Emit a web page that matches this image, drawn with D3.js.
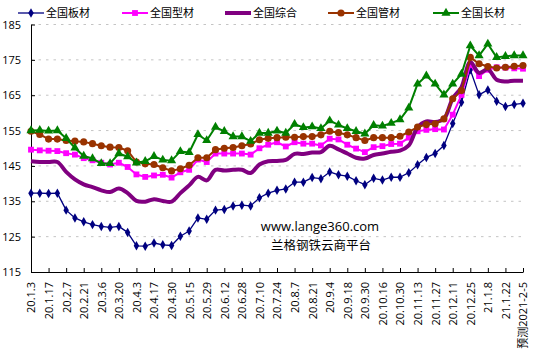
<!DOCTYPE html>
<html>
<head>
<meta charset="utf-8">
<script src="https://cdn.jsdelivr.net/npm/d3@7"></script>
<style>
    body { margin: 0; background: #fff; }
    svg text { font-family: "Open Sans", "Noto Sans CJK SC", sans-serif; fill: #000; }
</style>
</head>
<body>
<svg id="chart" width="535" height="353"></svg>
<script>
const CATEGORIES = [
    '20.1.3', '20.1.10', '20.1.17', '20.1.23', '20.2.7', '20.2.14', '20.2.21', '20.2.28',
    '20.3.6', '20.3.13', '20.3.20', '20.3.27', '20.4.3', '20.4.10', '20.4.17', '20.4.24',
    '20.4.30', '20.5.8', '20.5.15', '20.5.22', '20.5.29', '20.6.5', '20.6.12', '20.6.19',
    '20.6.28', '20.7.3', '20.7.10', '20.7.17', '20.7.24', '20.7.31', '20.8.7', '20.8.14',
    '20.8.21', '20.8.28', '20.9.4', '20.9.11', '20.9.18', '20.9.25', '20.9.30', '20.10.9',
    '20.10.16', '20.10.23', '20.10.30', '20.11.6', '20.11.13', '20.11.20', '20.11.27', '20.12.4',
    '20.12.11', '20.12.18', '20.12.25', '21.1.1', '21.1.8', '21.1.15', '21.1.22', '21.1.29',
    '预测2021-2-5'
];

const Y_TICKS = [115, 125, 135, 145, 155, 165, 175, 185];

const BANCAI = [
    137.3, 137.3, 137.2, 137.3, 132.5, 130.3, 129.2, 128.4, 127.9, 127.6,
    127.9, 126.2, 122.4, 122.3, 123.2, 122.7, 122.5, 125.1, 126.6, 130.3,
    129.9, 132.5, 132.7, 133.7, 133.9, 133.7, 136.0, 137.3, 138.1, 138.5,
    140.4, 140.4, 141.7, 141.4, 143.3, 142.5, 142.1, 140.8, 139.7, 141.5,
    141.0, 141.8, 141.8, 143.1, 145.3, 147.4, 148.5, 150.8, 157.0, 163.0,
    172.2, 165.1, 166.5, 163.3, 161.8, 162.4, 162.7
];

const XINGCAI = [
    149.6, 149.4, 149.3, 149.2, 148.6, 148.2, 147.2, 146.6, 145.9, 145.4,
    145.9, 144.7, 142.6, 141.9, 142.3, 142.5, 141.7, 143.2, 143.9, 146.8,
    146.1, 148.5, 148.5, 148.5, 148.5, 148.2, 150.0, 151.0, 151.7, 150.5,
    151.7, 151.3, 151.3, 150.8, 152.7, 152.5, 151.0, 149.9, 148.9, 150.3,
    150.6, 151.2, 151.3, 153.0, 154.8, 155.2, 155.4, 155.3, 159.5, 165.1,
    173.6, 170.4, 172.2, 172.9, 172.8, 172.6, 172.5
];

const ZONGHE = [
    146.3, 146.1, 146.1, 146.1, 143.3, 141.2, 139.8, 139.0, 138.1, 137.6,
    138.6, 137.3, 135.1, 134.9, 135.6, 135.1, 134.9, 137.3, 139.5, 141.9,
    140.9, 143.9, 143.7, 143.9, 143.9, 143.0, 145.4, 146.3, 146.4, 146.7,
    148.4, 148.4, 148.8, 148.9, 150.7, 149.7, 148.5, 147.3, 147.1, 148.1,
    148.5, 149.0, 149.3, 150.8, 155.9, 157.6, 157.4, 158.3, 164.1, 167.3,
    174.4, 171.3, 172.3, 169.4, 168.9, 169.1, 169.1
];

const GUANCAI = [
    154.8, 153.9, 152.6, 152.6, 152.2, 152.0, 151.8, 151.3, 150.7, 150.3,
    150.2, 149.3, 146.1, 145.6, 145.4, 144.5, 143.6, 144.2, 145.2, 147.3,
    147.3, 149.6, 150.0, 150.2, 150.7, 151.2, 152.4, 152.8, 153.0, 153.1,
    153.1, 153.3, 153.3, 153.8, 154.8, 154.4, 153.8, 153.0, 152.2, 153.0,
    153.0, 153.0, 153.4, 154.6, 156.0, 156.7, 156.9, 158.3, 164.0, 166.3,
    175.7, 173.9, 173.1, 172.7, 172.9, 173.2, 173.4
];

const CHANGCAI = [
    155.0, 155.1, 154.9, 155.0, 152.8, 150.1, 147.8, 147.1, 145.7, 145.7,
    148.5, 147.6, 145.9, 146.3, 147.7, 146.7, 146.5, 149.1, 148.8, 153.9,
    152.2, 156.0, 154.8, 153.3, 153.3, 152.0, 154.3, 154.3, 154.9, 154.3,
    156.8, 155.9, 156.1, 155.6, 157.8, 156.6, 155.6, 154.8, 154.1, 156.5,
    156.3, 157.1, 158.1, 161.4, 168.2, 170.5, 168.2, 165.1, 168.2, 171.0,
    179.0, 176.2, 179.5, 175.7, 176.0, 176.2, 176.2
];

const SERIES = [
    { name: '全国板材', values: BANCAI, color: '#000080', width: 1.3, symbol: d3.symbolDiamond, size: 26, legendX: 18 },
    { name: '全国型材', values: XINGCAI, color: '#ff00ff', width: 2, symbol: d3.symbolSquare, size: 34, legendX: 122 },
    { name: '全国综合', values: ZONGHE, color: '#800080', width: 4, symbol: null, size: 0, legendX: 225 },
    { name: '全国管材', values: GUANCAI, color: '#993300', width: 2, symbol: d3.symbolCircle, size: 40, legendX: 328 },
    { name: '全国长材', values: CHANGCAI, color: '#008000', width: 2, symbol: d3.symbolTriangle, size: 36, legendX: 433 }
];

const svg = d3.select('#chart');
const plot = { left: 31, right: 523, top: 24.5, bottom: 272 };

const xScale = d3.scalePoint()
    .domain(CATEGORIES)
    .range([plot.left, plot.right]);

const yScale = d3.scaleLinear()
    .domain([115, 185])
    .range([plot.bottom, plot.top]);

// dotted grid
svg.append('g')
    .selectAll('line')
    .data(Y_TICKS.slice(1))
    .enter()
    .append('line')
    .attr('x1', plot.left)
    .attr('x2', plot.right)
    .attr('y1', (d) => yScale(d))
    .attr('y2', (d) => yScale(d))
    .attr('stroke', '#c4c4c4')
    .attr('stroke-width', 1)
    .attr('stroke-dasharray', '2.5,5');

// axes
svg.append('g')
    .attr('transform', `translate(${plot.left},0)`)
    .call(d3.axisLeft(yScale).tickValues(Y_TICKS).tickSizeInner(-4).tickSizeOuter(0).tickPadding(10))
    .call((group) => group.selectAll('line').attr('stroke', '#000'))
    .call((group) => group.select('.domain').attr('stroke', '#000'))
    .call((group) => group.selectAll('text').attr('font-size', 11).attr('fill', '#000'));

svg.append('g')
    .attr('transform', `translate(0,${plot.bottom})`)
    .call(d3.axisBottom(xScale)
        .tickValues(CATEGORIES.filter((d, i) => i % 2 === 0))
        .tickSizeInner(-4)
        .tickSizeOuter(0))
    .call((group) => group.selectAll('line').attr('stroke', '#000'))
    .call((group) => group.select('.domain').attr('stroke', '#000'))
    .call((group) => group.selectAll('text')
        .attr('font-size', 11)
        .attr('fill', '#000')
        .attr('transform', 'rotate(-90)')
        .attr('text-anchor', 'end')
        .attr('x', -10)
        .attr('y', 0)
        .attr('dy', '0.35em'));

// series
SERIES.forEach((series) => {
    const line = d3.line()
        .x((d, i) => xScale(CATEGORIES[i]))
        .y((d) => yScale(d))
        .curve(series.symbol ? d3.curveLinear : d3.curveCatmullRom.alpha(0.5));

    const group = svg.append('g');

    group.append('path')
        .datum(series.values)
        .attr('d', line)
        .attr('fill', 'none')
        .attr('stroke', series.color)
        .attr('stroke-width', series.width)
        .attr('stroke-linejoin', 'round');

    if (series.symbol) {
        group.selectAll('path.marker')
            .data(series.values)
            .enter()
            .append('path')
            .attr('class', 'marker')
            .attr('d', d3.symbol().type(series.symbol).size(series.size))
            .attr('transform', (d, i) => `translate(${xScale(CATEGORIES[i])},${yScale(d)})`)
            .attr('fill', series.color);
    }
});

// legend
const legend = svg.append('g');
SERIES.forEach((series) => {
    const item = legend.append('g').attr('transform', `translate(${series.legendX},13)`);
    item.append('line')
        .attr('x1', 0)
        .attr('x2', 26)
        .attr('stroke', series.color)
        .attr('stroke-width', series.width);
    if (series.symbol) {
        item.append('path')
            .attr('d', d3.symbol().type(series.symbol).size(series.size))
            .attr('transform', 'translate(13,0)')
            .attr('fill', series.color);
    }
    item.append('text')
        .attr('x', 28)
        .attr('dy', '0.35em')
        .attr('font-size', 11)
        .text(series.name);
});

// watermark
svg.append('text')
    .attr('x', 320)
    .attr('y', 231)
    .attr('text-anchor', 'middle')
    .attr('font-size', 13)
    .text('www.lange360.com');

svg.append('text')
    .attr('x', 321)
    .attr('y', 250)
    .attr('text-anchor', 'middle')
    .attr('font-size', 12.5)
    .text('兰格钢铁云商平台');
</script>
</body>
</html>
